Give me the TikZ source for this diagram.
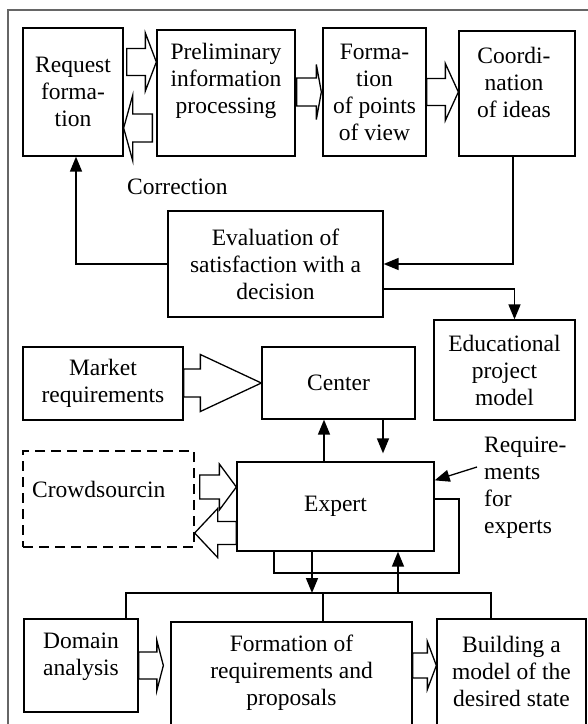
\documentclass[tikz,border=0pt]{standalone}
\usepackage{fontspec}
\setmainfont{Liberation Serif}
\usetikzlibrary{arrows.meta,calc}
\newcommand{\rmtxt}{\fontsize{23.5}{27}\selectfont}
\newcommand{\blockarr}[5]{%
  \draw[blockline] let \p1=#1, \p2=#2, \n1={sign(\x2-\x1)} in
    (\x1,{\y2+#4pt}) -- ({\x2-(\n1)*#3pt},{\y2+#4pt}) -- ({\x2-(\n1)*#3pt},{\y2+#5pt})
    -- (\x2,\y2) -- ({\x2-(\n1)*#3pt},{\y2-#5pt}) -- ({\x2-(\n1)*#3pt},{\y2-#4pt})
    -- (\x1,{\y2-#4pt}) -- cycle;}

\begin{document}
\begin{tikzpicture}[x=1pt,y=-1pt,>={Triangle[length=15pt,width=12pt]},
  box/.style={draw,line width=1.3pt,inner sep=0pt,align=center,font=\rmtxt},
  txt/.style={inner sep=0pt,align=center,font=\rmtxt},
  link/.style={line width=1.6pt},
  blockline/.style={line width=1.3pt,fill=white},
  frame/.style={line width=1.2pt,black!60}]
\useasboundingbox (0,0) rectangle (588,724);
\clip (0,0) rectangle (588,724);
\draw[frame] (8,724) -- (8,10) -- (588,10);

\node[box,minimum width=100,minimum height=128] (req) at (73,92) {Request\\forma-\\tion};
\node[box,minimum width=138,minimum height=126] (prelim) at (226,93) {};
\node[txt] (prelimtxt) at (226,81) {Preliminary\\information\\processing};
\node[box,minimum width=103,minimum height=128] (points) at (374.5,92) {Forma-\\tion\\of points\\of view};
\node[box,minimum width=116,minimum height=125] (coord) at (517,93.5) {};
\node[txt] (coordtxt) at (514,82) {Coordi-\\nation\\of ideas};
\node[txt,anchor=west] (corr) at (127,187) {Correction};
\node[box,minimum width=215,minimum height=106] (eval) at (275.5,264) {Evaluation of\\satisfaction with a\\decision};
\node[box,minimum width=141,minimum height=100] (edu) at (504.5,370) {Educational\\project\\model};
\node[box,minimum width=160,minimum height=73] (market) at (103,383.5) {Market\\requirements};
\node[box,minimum width=153,minimum height=72] (center) at (338.5,383) {Center};
\node[box,dash pattern=on 10pt off 6pt,minimum width=171,minimum height=96] (crowd) at (108.5,499) {};
\node[txt,anchor=base west] (crowdtxt) at (32,497) {Crowdsourcin};
\node[box,minimum width=197,minimum height=89] (expert) at (335.5,506.5) {Expert};
\node[txt,anchor=north west,align=left] (reqexp) at (484,437) {Require-\\ments\\for\\experts};
\node[box,minimum width=114,minimum height=93] (domain) at (81,665.5) {};
\node[txt] (domaintxt) at (81,656.5) {Domain\\analysis};
\node[box,minimum width=241,minimum height=130] (formreq) at (291.5,687) {};
\node[txt] (formreqtxt) at (291.5,673) {Formation of\\requirements and\\proposals};
\node[box,minimum width=149,minimum height=133] (build) at (511.5,685.5) {};
\node[txt] (buildtxt) at (511.5,671.5) {Building a\\model of the\\desired state};

\blockarr{([shift={(3,-30)}]req.east)}{([yshift=31]prelim.west)}{11}{13.5}{29}
\blockarr{([shift={(-4,35)}]prelim.west)}{([yshift=-36]req.east)}{9}{14}{32.5}
\blockarr{([xshift=1]prelim.east)}{([xshift=-1]points.west)}{5}{14}{27.5}
\blockarr{(points.east)}{([yshift=1.5]coord.west)}{13}{13.5}{28.5}
\blockarr{(market.east)}{(center.west)}{61}{14}{28.5}
\blockarr{([xshift=5]crowd.east)}{([yshift=19.5]expert.west)}{17}{12}{23}
\blockarr{([yshift=-26]expert.west)}{([yshift=-34]crowd.east)}{23}{11.5}{24.5}
\blockarr{(domain.east)}{([xshift=-7]formreq.west |- domain.east)}{6.5}{13.5}{25}
\blockarr{(formreq.east)}{(build.west |- domain.east)}{9}{12.5}{24}

\draw[link,->] (eval.west) -| ([xshift=3]req.south);
\draw[link,->] ([xshift=-4]coord.south) |- (eval.east);
\draw[link,->] ([yshift=-25]eval.east) -| ([xshift=10]edu.north);
\draw[link,->] ([xshift=-11.5]expert.north) -- ([xshift=-11.5]expert.north |- center.south);
\draw[link,->,shorten >=8pt] ([xshift=44.5]center.south) -- ([xshift=44.5]center.south |- expert.north);
\coordinate (rqtail) at (477,467);
\draw[line width=1.3pt,->] (rqtail) -- ([yshift=-19]expert.north east);
\coordinate (loopc) at (459,573);
\draw[link] ([xshift=-61.5]expert.south) |- (loopc) |- ([yshift=7.5]expert.east);

\coordinate (busL) at (126,593);
\coordinate (busR) at (491,593);
\draw[link] ([xshift=45]domain.north) -- (busL) -- (busR) -- ([xshift=-20.5]build.north);
\draw[link] ([xshift=31.5]formreq.north) -- ([xshift=31.5]formreq.north |- busL);
\draw[link,->] ([xshift=-23.5]expert.south) -- ([xshift=-23.5]expert.south |- busL);
\draw[link,->] ([xshift=62.5]expert.south |- busL) -- ([xshift=62.5]expert.south);
\end{tikzpicture}
\end{document}
